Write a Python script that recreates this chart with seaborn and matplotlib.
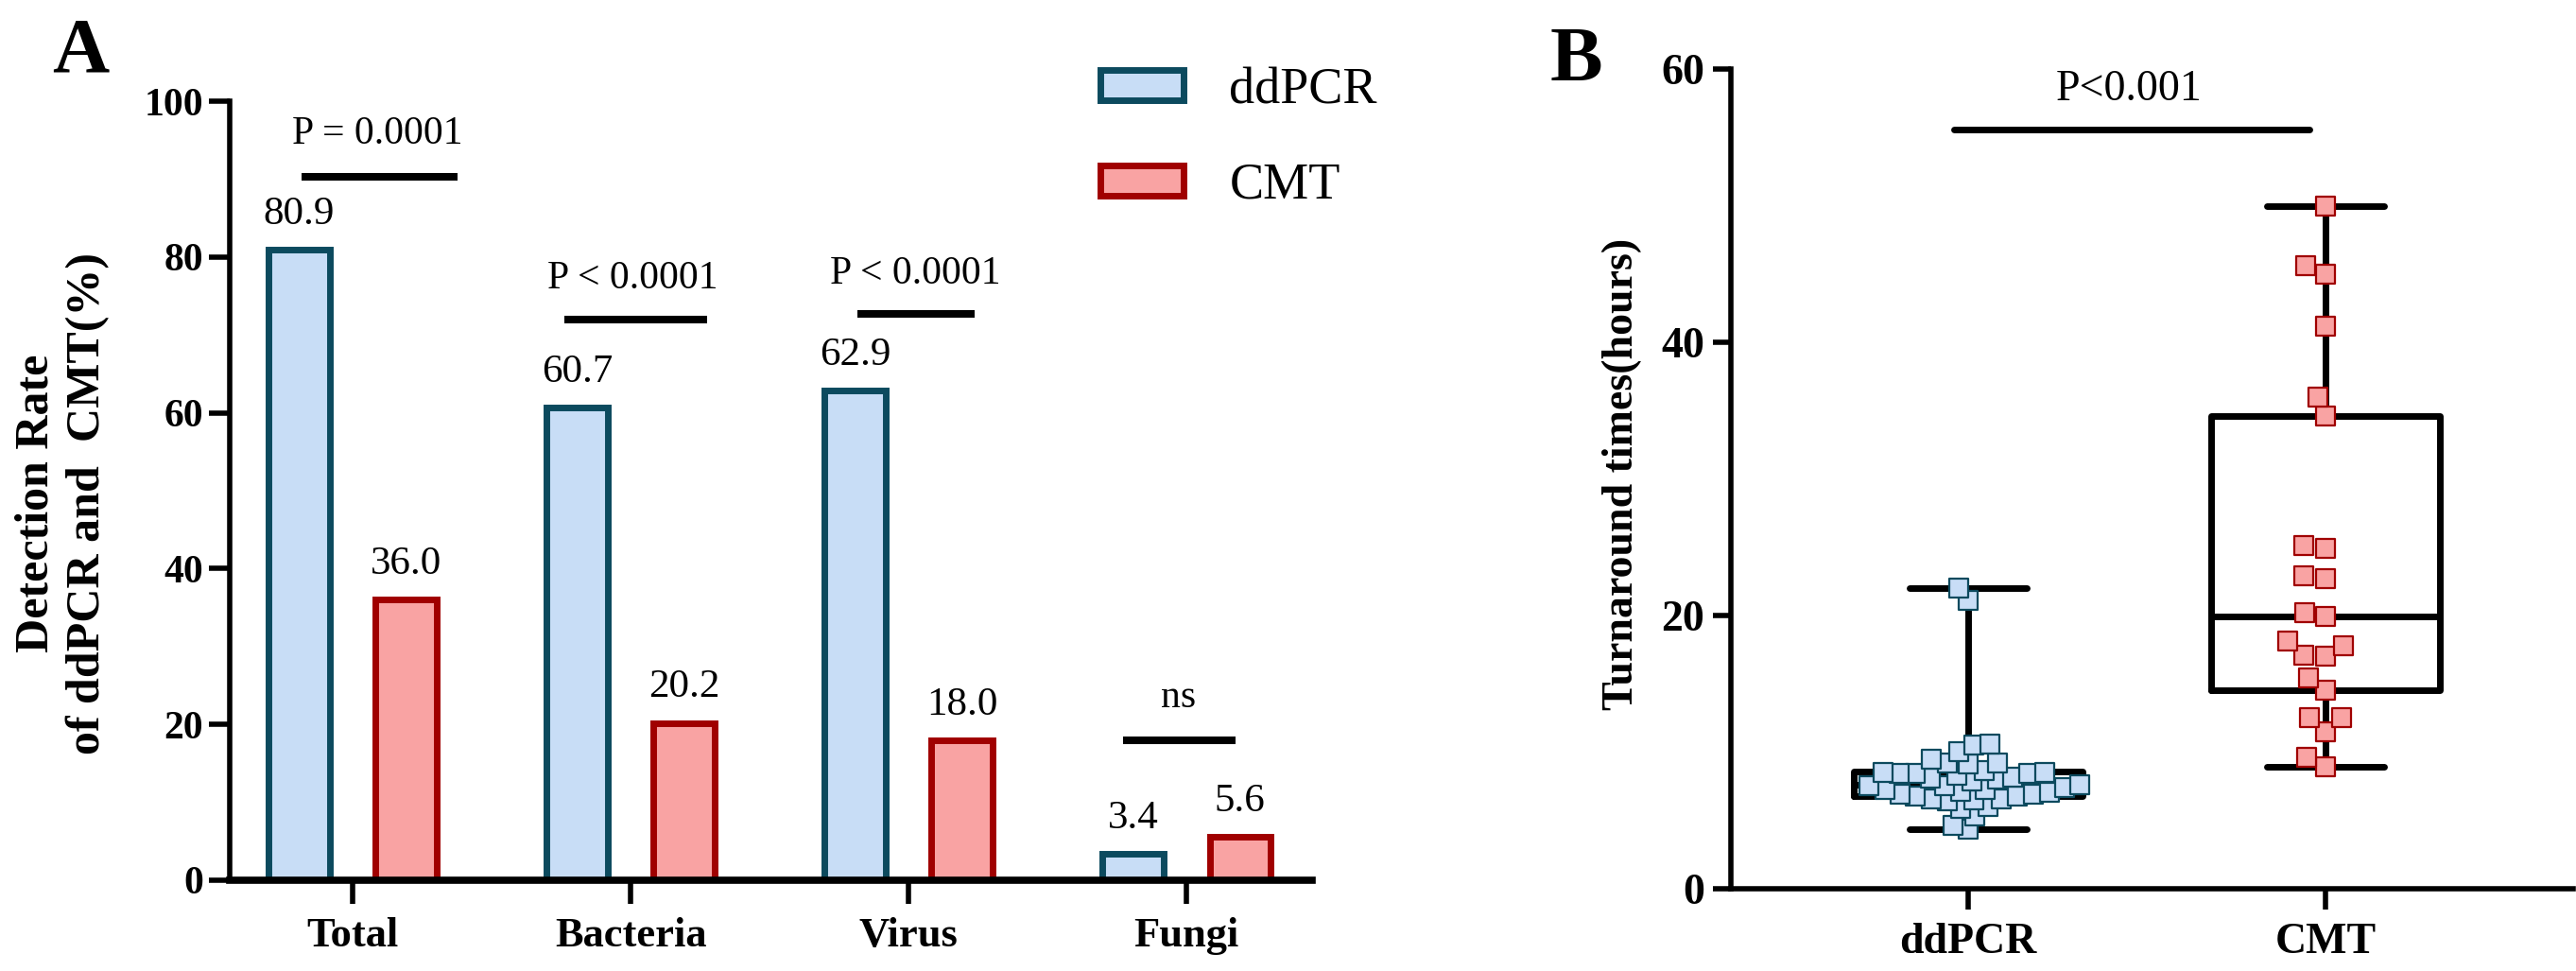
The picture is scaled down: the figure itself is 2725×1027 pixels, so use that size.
import numpy as np
import pandas as pd
import matplotlib
matplotlib.use("Agg")
import matplotlib.pyplot as plt
import seaborn as sns

# Panel A data: detection rate (%)
categories = ["Total", "Bacteria", "Virus", "Fungi"]
methods = ["ddPCR", "CMT"]
ddpcr_rate = [80.9, 60.7, 62.9, 3.4]
cmt_rate = [36.0, 20.2, 18.0, 5.6]
p_labels_a = ["P = 0.0001", "P < 0.0001", "P < 0.0001", "ns"]

# Panel B data: turnaround times (hours)
ddpcr_tat = [4.34, 4.66, 5.35, 5.88, 6.0, 6.46, 6.5, 6.57, 6.57, 6.80, 6.80,
             6.92, 6.92, 7.04, 7.15, 7.27, 7.27, 7.38, 7.56, 7.56, 7.61, 7.9,
             8.0, 8.12, 8.19, 8.3, 8.42, 8.42, 8.42, 8.5, 8.53, 8.65, 9.11,
             9.18, 9.23, 9.46, 10.03, 10.5, 10.57, 21.1, 22.0]
cmt_tat = [8.9, 9.6, 11.5, 12.5, 12.5, 14.5, 15.4, 17.0, 17.1, 17.8, 18.1,
           19.9, 20.2, 22.7, 22.9, 24.9, 25.1, 34.6, 36.0, 41.2, 45.0, 45.6, 50.0]
p_label_b = "P<0.001"

# colours
fill = {"ddPCR": "#c8ddf6", "CMT": "#f9a3a3"}
edge = {"ddPCR": "#0c4a5e", "CMT": "#a00000"}

sns.set_style("ticks")
plt.rcParams["font.family"] = ["Liberation Serif", "DejaVu Serif"]
plt.rcParams["text.color"] = "black"
plt.rcParams["axes.edgecolor"] = "black"
plt.rcParams["xtick.color"] = "black"
plt.rcParams["ytick.color"] = "black"
plt.rcParams["axes.linewidth"] = 4
plt.rcParams["xtick.major.width"] = 4
plt.rcParams["ytick.major.width"] = 4
plt.rcParams["xtick.major.size"] = 18
plt.rcParams["ytick.major.size"] = 16

fig = plt.figure(figsize=(27.25, 10.27), dpi=100)
ax_a = fig.add_axes([0.0892, 0.0935, 0.4202, 0.8023])
ax_b = fig.add_axes([0.6719, 0.0847, 0.3270, 0.8442])

# ---------------- Panel A ----------------
df_a = pd.DataFrame({
    "Category": categories * 2,
    "Method": ["ddPCR"] * len(categories) + ["CMT"] * len(categories),
    "Rate": ddpcr_rate + cmt_rate,
})
sns.barplot(data=df_a, x="Category", y="Rate", hue="Method", order=categories,
            hue_order=methods, palette=fill, saturation=1, width=0.77,
            gap=0.43, linewidth=5, ax=ax_a, legend=False)
for cont, m in zip(ax_a.containers, methods):
    for bar in cont:
        bar.set_edgecolor(edge[m])
        bar.set_linewidth(5)
    vals = ddpcr_rate if m == "ddPCR" else cmt_rate
    ax_a.bar_label(cont, labels=[f"{v:.1f}" for v in vals], padding=13,
                   fontsize=31)

ax_a.set_xlim(-0.442, 3.452)
ax_a.set_ylim(0, 100)
ax_a.set_yticks([0, 20, 40, 60, 80, 100])
ax_a.set_xlabel("")
ax_a.set_ylabel("")
ax_a.tick_params(axis="y", labelsize=30, pad=4)
ax_a.tick_params(axis="x", labelsize=32, pad=10)
for lab in ax_a.get_xticklabels() + ax_a.get_yticklabels():
    lab.set_fontweight("bold")
sns.despine(ax=ax_a)
ax_a.spines["bottom"].set_linewidth(5.5)

# significance bars (x0, x1, line y, text x, text y)
sig_pos_a = [(-0.184, 0.378, 90.3, 0.088, 94.5),
             (-0.24, 0.276, 72.0, 0.007, 76.0),
             (-0.184, 0.238, 72.7, 0.024, 76.6),
             (-0.23, 0.177, 18.0, -0.03, 22.2)]
for i, (lab, (x0, x1, ly, tx, ty)) in enumerate(zip(p_labels_a, sig_pos_a)):
    ax_a.plot([i + x0, i + x1], [ly, ly], color="black", lw=5.8,
              solid_capstyle="butt", clip_on=False)
    ax_a.text(i + tx, ty, lab, ha="center", va="baseline", fontsize=30)

fig.text(66 / 2725, 1 - 532 / 1027, "Detection Rate\nof ddPCR and  CMT(%)",
         rotation=90, ha="center", va="center", fontsize=36,
         fontweight="bold", linespacing=1.25, multialignment="center")

leg = ax_a.legend(ax_a.containers, methods, loc="upper left",
                  bbox_to_anchor=(1164 / 2725, 1 - 71 / 1027),
                  bbox_transform=fig.transFigure, frameon=False, fontsize=39,
                  handlelength=1.62, handleheight=0.54, handletextpad=0.9,
                  labelspacing=0.92, borderpad=0, borderaxespad=0)

# ---------------- Panel B ----------------
df_b = pd.DataFrame({
    "Method": ["ddPCR"] * len(ddpcr_tat) + ["CMT"] * len(cmt_tat),
    "Hours": ddpcr_tat + cmt_tat,
})
# ddPCR points overlap in the original, so lay the swarm out with a smaller
# marker and enlarge the squares afterwards
n0 = len(ax_b.collections)
sns.swarmplot(data=df_b[df_b["Method"] == "ddPCR"], x="Method", y="Hours",
              order=methods, color=fill["ddPCR"], edgecolor=edge["ddPCR"],
              marker="s", size=10, linewidth=1.6, warn_thresh=1, ax=ax_b,
              zorder=3)
ddpcr_colls = ax_b.collections[n0:]
n1 = len(ax_b.collections)
sns.swarmplot(data=df_b[df_b["Method"] == "CMT"], x="Method", y="Hours",
              order=methods, color=fill["CMT"], edgecolor=edge["CMT"],
              marker="s", size=14, linewidth=1.6, warn_thresh=1, ax=ax_b,
              zorder=3)
for coll in ddpcr_colls:
    coll.set_edgecolor(edge["ddPCR"])
for coll in ax_b.collections[n1:]:
    coll.set_edgecolor(edge["CMT"])

# box: min-to-max whiskers, quartiles as in GraphPad (n+1 method)
stats = []
for m, vals in zip(methods, [ddpcr_tat, cmt_tat]):
    v = np.asarray(vals)
    q1, med, q3 = np.percentile(v, [25, 50, 75], method="weibull")
    stats.append({"med": med, "q1": q1, "q3": q3, "whislo": v.min(),
                  "whishi": v.max(), "fliers": [], "label": m})
ax_b.bxp(stats, positions=[0, 1], widths=0.64, capwidths=0.33,
         showfliers=False, manage_ticks=False,
         boxprops=dict(color="black", linewidth=5),
         whiskerprops=dict(color="black", linewidth=5),
         capprops=dict(color="black", linewidth=5),
         medianprops=dict(color="black", linewidth=5))

ax_b.set_xlim(-0.664, 1.693)
ax_b.set_ylim(0, 60)
ax_b.set_yticks([0, 20, 40, 60])
ax_b.set_xticks([0, 1])
ax_b.set_xticklabels(methods)
ax_b.set_xlabel("")
ax_b.set_ylabel("")
ax_b.tick_params(axis="y", labelsize=33, pad=6, length=14)
ax_b.tick_params(axis="x", labelsize=33, pad=10, length=16)
for lab in ax_b.get_xticklabels() + ax_b.get_yticklabels():
    lab.set_fontweight("bold")
sns.despine(ax=ax_b)

ax_b.plot([-0.04, 0.955], [55.6, 55.6], color="black", lw=5, clip_on=False)
ax_b.text(0.45, 57.7, p_label_b, ha="center", va="baseline", fontsize=33)

fig.text(1716 / 2725, 1 - 501 / 1027, "Turnaround times(hours)", rotation=90,
         ha="center", va="center", fontsize=33, fontweight="bold")

fig.text(55 / 2725, 1 - 18 / 1027, "A", ha="left", va="top", fontsize=60,
         fontweight="bold")
fig.text(1640 / 2725, 1 - 28 / 1027, "B", ha="left", va="top", fontsize=60,
         fontweight="bold")

# run the swarm layout once, then freeze it and enlarge the ddPCR squares
fig.canvas.draw()
for coll in ddpcr_colls:
    if "draw" in coll.__dict__:
        del coll.draw
    coll.set_sizes([14 ** 2])

fig.savefig("out.png", dpi=100)
